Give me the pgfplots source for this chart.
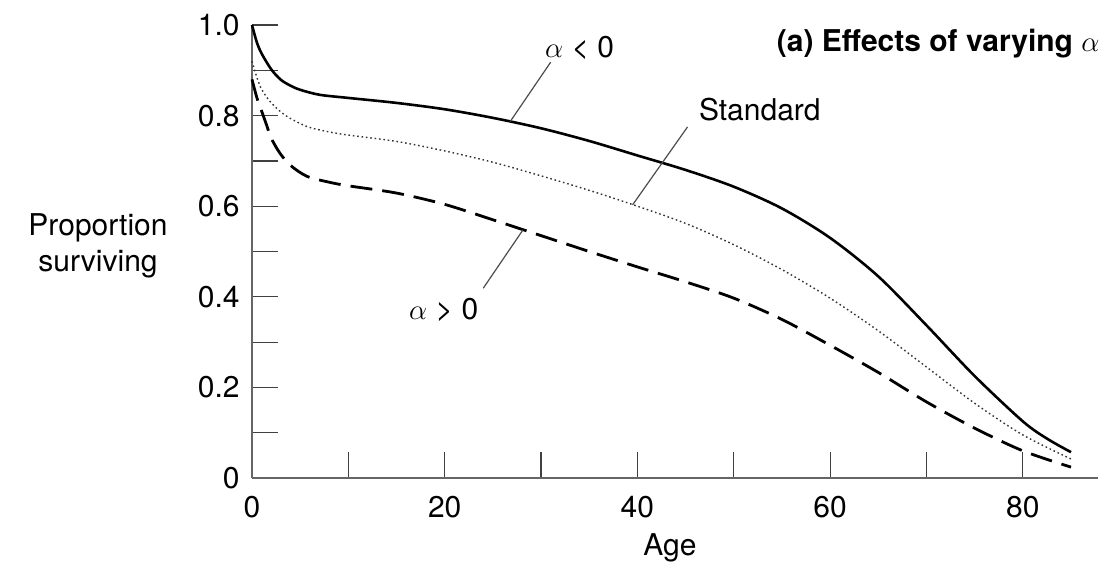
\documentclass[border=0pt]{standalone}
\usepackage{pgfplots}
\pgfplotsset{compat=1.18}
\usepackage{fontspec}
\setmainfont{TeX Gyre Heros}
\begin{document}
\fontsize{15}{18}\selectfont
\begin{tikzpicture}
\begin{axis}[
  scale only axis,
  width=423pt, height=226.5pt,
  xmin=0, xmax=87.8, ymin=0, ymax=1.0,
  axis x line=bottom, axis y line=left,
  axis line style={-, draw=black!60, line width=1.3pt},
  tick align=inside,
  major tick length=13pt,
  tick style={black!75, line width=0.6pt},
  xtick={0,10,...,80},
  xticklabels={0,,20,,40,,60,,80},
  ytick={0,0.1,...,1.0},
  yticklabels={0,,0.2,,0.4,,0.6,,0.8,,1.0},
  xticklabel style={yshift=-4pt},
  yticklabel style={xshift=-1pt},
  xlabel={Age},
  xlabel style={at={(axis description cs:0.494,0)}, anchor=center, yshift=-35pt},
  ylabel={Proportion\\surviving},
  ylabel style={rotate=-90, at={(axis description cs:-0.182,0.512)}, anchor=center, align=center},
  clip=false,
]
% alpha < 0 (solid)
\addplot[black, line width=1.3pt, smooth, tension=0.5] coordinates {
(0,1.0) (0.5,0.962) (1,0.937) (2,0.902) (3,0.879) (4,0.866) (5,0.857) (7,0.846)
(10,0.839) (15,0.828) (20,0.814) (25,0.795) (30,0.772) (35,0.744) (40,0.712)
(45,0.680) (50,0.643) (55,0.595) (60,0.530) (65,0.445) (70,0.337) (75,0.225)
(80,0.125) (82.5,0.087) (85,0.057)
};
% standard (dotted)
\addplot[black!80, line width=0.7pt, dash pattern=on 0.8pt off 1.4pt, smooth, tension=0.5] coordinates {
(0,0.92) (0.5,0.885) (1,0.858) (2,0.828) (3.5,0.800) (5.7,0.776) (8,0.764)
(10,0.757) (15,0.743) (20,0.722) (25,0.697) (30,0.667) (35,0.635) (40,0.600)
(45,0.562) (50,0.515) (55,0.460) (60,0.397) (65,0.325) (70,0.245) (75,0.165)
(80,0.095) (85,0.042)
};
% alpha > 0 (dashed)
\addplot[black, line width=1.4pt, dash pattern=on 11pt off 5pt, smooth, tension=0.5] coordinates {
(0,0.88) (0.5,0.84) (1,0.81) (1.5,0.78) (2,0.75) (2.9,0.717) (4,0.690) (5.7,0.666)
(8,0.653) (10,0.645) (15,0.629) (20,0.604) (25,0.570) (30,0.535) (35,0.500)
(40,0.466) (45,0.433) (50,0.397) (55,0.350) (60,0.293) (65,0.233) (70,0.168)
(75,0.110) (80,0.060) (85,0.024)
};
% leader lines and labels
\draw[black!70, line width=0.6pt] (axis cs:26.8,0.787) -- (axis cs:31.0,0.918);
\node at (axis cs:34.0,0.950) {$\alpha$ < 0};
\draw[black!70, line width=0.6pt] (axis cs:39.5,0.603) -- (axis cs:45.2,0.775);
\node at (axis cs:52.7,0.813) {Standard};
\draw[black!70, line width=0.6pt] (axis cs:28.1,0.547) -- (axis cs:24.0,0.419);
\node at (axis cs:19.9,0.371) {$\alpha$ > 0};
\node[anchor=east, inner sep=0pt] at (axis cs:88.0,0.960) {\textbf{(a) Effects of varying} $\alpha$};
\end{axis}
\pgfresetboundingbox
\useasboundingbox (-126pt,-48pt) rectangle (428pt,239pt);
\end{tikzpicture}
\end{document}
